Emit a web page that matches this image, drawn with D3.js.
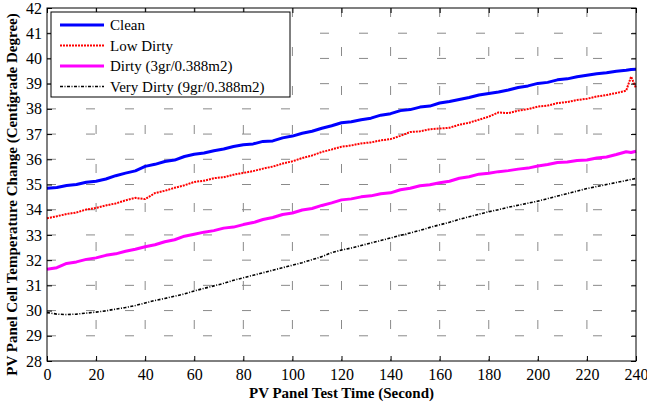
<!DOCTYPE html>
<html>
<head>
<meta charset="utf-8">
<script src="https://cdn.jsdelivr.net/npm/d3@7"></script>
<style>
  body { margin: 0; background: #fff; }
</style>
</head>
<body>
<div id="chart"></div>
<script>
// time axis (seconds)
const time = [0, 4, 8, 12, 16, 20, 24, 28, 32, 36, 40, 44, 48, 52, 56, 60, 64, 68, 72, 76,
  80, 84, 88, 92, 96, 100, 104, 108, 112, 116, 120, 124, 128, 132, 136, 140, 144, 148, 152, 156,
  160, 164, 168, 172, 176, 180, 184, 188, 192, 196, 200, 204, 208, 212, 216, 220, 224, 228, 232, 236,
  238, 240];

const clean = [34.85, 34.88, 34.96, 35.00, 35.09, 35.13, 35.22, 35.35, 35.45, 35.54, 35.72, 35.80, 35.91, 35.97, 36.11, 36.20, 36.25, 36.34, 36.41, 36.51,
  36.58, 36.61, 36.71, 36.73, 36.85, 36.92, 37.03, 37.11, 37.23, 37.33, 37.45, 37.49, 37.57, 37.63, 37.75, 37.81, 37.93, 37.97, 38.07, 38.11,
  38.23, 38.29, 38.37, 38.45, 38.55, 38.61, 38.67, 38.75, 38.85, 38.91, 39.01, 39.05, 39.15, 39.19, 39.27, 39.33, 39.39, 39.43, 39.49, 39.53,
  39.56, 39.57];

const lowDirty = [33.66, 33.74, 33.83, 33.89, 34.01, 34.07, 34.17, 34.25, 34.37, 34.47, 34.42, 34.66, 34.75, 34.87, 34.97, 35.10, 35.15, 35.25, 35.29, 35.39,
  35.46, 35.53, 35.63, 35.71, 35.83, 35.92, 36.05, 36.15, 36.29, 36.39, 36.50, 36.55, 36.63, 36.67, 36.75, 36.80, 36.93, 37.08, 37.11, 37.19,
  37.22, 37.25, 37.37, 37.45, 37.57, 37.69, 37.86, 37.83, 37.93, 37.99, 38.09, 38.13, 38.23, 38.27, 38.35, 38.40, 38.49, 38.55, 38.63, 38.72,
  39.28, 38.82];

const dirty = [31.64, 31.70, 31.87, 31.93, 32.03, 32.09, 32.19, 32.25, 32.35, 32.43, 32.53, 32.61, 32.73, 32.81, 32.95, 33.03, 33.11, 33.17, 33.27, 33.31,
  33.41, 33.49, 33.61, 33.69, 33.81, 33.87, 33.99, 34.05, 34.17, 34.27, 34.39, 34.43, 34.51, 34.55, 34.63, 34.67, 34.79, 34.85, 34.95, 34.99,
  35.07, 35.13, 35.25, 35.31, 35.41, 35.45, 35.51, 35.55, 35.61, 35.65, 35.73, 35.79, 35.87, 35.89, 35.95, 35.97, 36.05, 36.09, 36.19, 36.30,
  36.27, 36.32];

const veryDirty = [29.92, 29.86, 29.84, 29.86, 29.90, 29.94, 29.99, 30.06, 30.12, 30.20, 30.30, 30.40, 30.48, 30.57, 30.66, 30.78, 30.88, 30.98, 31.08, 31.20,
  31.30, 31.40, 31.50, 31.60, 31.70, 31.80, 31.90, 32.02, 32.14, 32.30, 32.40, 32.48, 32.58, 32.68, 32.78, 32.88, 32.98, 33.08, 33.18, 33.30,
  33.40, 33.50, 33.62, 33.72, 33.82, 33.92, 34.00, 34.10, 34.18, 34.26, 34.34, 34.44, 34.54, 34.64, 34.74, 34.84, 34.92, 35.00, 35.08, 35.16,
  35.20, 35.24];

const seriesNames = ["Clean", "Low Dirty", "Dirty (3gr/0.388m2)", "Very Dirty (9gr/0.388m2)"];
const seriesValues = [clean, lowDirty, dirty, veryDirty];
const seriesColors = ["#0000ff", "#ff0000", "#ff00ff", "#000000"];
const seriesWidths = [3, 2, 3, 1.6];
const seriesDash = [null, "2,1", null, "3,1.5,1,1.5"];

const xTicks = [0, 20, 40, 60, 80, 100, 120, 140, 160, 180, 200, 220, 240];
const yTicks = [28, 29, 30, 31, 32, 33, 34, 35, 36, 37, 38, 39, 40, 41, 42];

const serif = '"Liberation Serif", "Times New Roman", Times, serif';
const width = 647, height = 403;
const margin = {top: 8, right: 11, bottom: 42, left: 47};
const iw = width - margin.left - margin.right;
const ih = height - margin.top - margin.bottom;

const svg = d3.select("#chart").append("svg")
  .attr("width", width)
  .attr("height", height);

const g = svg.append("g")
  .attr("transform", `translate(${margin.left},${margin.top})`);

const x = d3.scaleLinear().domain([0, 240]).range([0, iw]);
const y = d3.scaleLinear().domain([28, 42]).range([ih, 0]);

// grid
g.append("g").selectAll("line")
  .data(yTicks.slice(1, -1)).enter().append("line")
  .attr("x1", 0).attr("x2", iw)
  .attr("y1", d => y(d)).attr("y2", d => y(d))
  .attr("stroke", "#8a8a8a")
  .attr("stroke-width", 1)
  .attr("stroke-dasharray", "9,30");

g.append("g").selectAll("line")
  .data(xTicks.slice(1, -1)).enter().append("line")
  .attr("x1", d => x(d)).attr("x2", d => x(d))
  .attr("y1", 0).attr("y2", ih)
  .attr("stroke", "#8a8a8a")
  .attr("stroke-width", 1)
  .attr("stroke-dasharray", "9,30");

// series
const line = d3.line()
  .x((d, i) => x(time[i]))
  .y(d => y(d));

seriesValues.forEach((vals, k) => {
  g.append("path")
    .datum(vals)
    .attr("fill", "none")
    .attr("stroke", seriesColors[k])
    .attr("stroke-width", seriesWidths[k])
    .attr("stroke-dasharray", seriesDash[k])
    .attr("stroke-linejoin", "round")
    .attr("d", line);
});

// axes, ticks inside on all four sides
const xAxis = g.append("g")
  .attr("transform", `translate(0,${ih})`)
  .call(d3.axisBottom(x).tickValues(xTicks).tickSizeInner(-5).tickSizeOuter(0).tickPadding(8));
const yAxis = g.append("g")
  .call(d3.axisLeft(y).tickValues(yTicks).tickSizeInner(-5).tickSizeOuter(0).tickPadding(5));
g.append("g")
  .call(d3.axisTop(x).tickValues(xTicks).tickSizeInner(-5).tickSizeOuter(0).tickFormat(""));
g.append("g")
  .attr("transform", `translate(${iw},0)`)
  .call(d3.axisRight(y).tickValues(yTicks).tickSizeInner(-5).tickSizeOuter(0).tickFormat(""));

g.selectAll(".domain").remove();
g.selectAll(".tick line").attr("stroke", "#000");
xAxis.selectAll("text").style("font-family", serif).style("font-size", "16px").attr("fill", "#000");
yAxis.selectAll("text").style("font-family", serif).style("font-size", "16px").attr("fill", "#000");

g.append("rect")
  .attr("width", iw).attr("height", ih)
  .attr("fill", "none")
  .attr("stroke", "#000")
  .attr("stroke-width", 1);

// legend
const legend = g.append("g").attr("transform", "translate(4,4)");
legend.append("rect")
  .attr("width", 239).attr("height", 85)
  .attr("fill", "#fff")
  .attr("stroke", "#000")
  .attr("stroke-width", 1);

seriesNames.forEach((name, k) => {
  const ly = 13 + k * 20.5;
  legend.append("line")
    .attr("x1", 9).attr("x2", 53)
    .attr("y1", ly).attr("y2", ly)
    .attr("stroke", seriesColors[k])
    .attr("stroke-width", seriesWidths[k])
    .attr("stroke-dasharray", seriesDash[k]);
  legend.append("text")
    .attr("x", 59).attr("y", ly)
    .attr("dy", "0.35em")
    .style("font-family", serif)
    .style("font-size", "15px")
    .text(name);
});

// axis titles
svg.append("text")
  .attr("x", margin.left + iw / 2)
  .attr("y", 398)
  .attr("text-anchor", "middle")
  .style("font-family", serif)
  .style("font-size", "15px")
  .style("font-weight", "bold")
  .text("PV Panel Test Time (Second)");

svg.append("text")
  .attr("transform", `translate(17,${margin.top + ih / 2 + 10}) rotate(-90)`)
  .attr("text-anchor", "middle")
  .style("font-family", serif)
  .style("font-size", "15px")
  .style("font-weight", "bold")
  .text("PV Panel Cell Temperature Change (Centigrade Degree)");
</script>
</body>
</html>
